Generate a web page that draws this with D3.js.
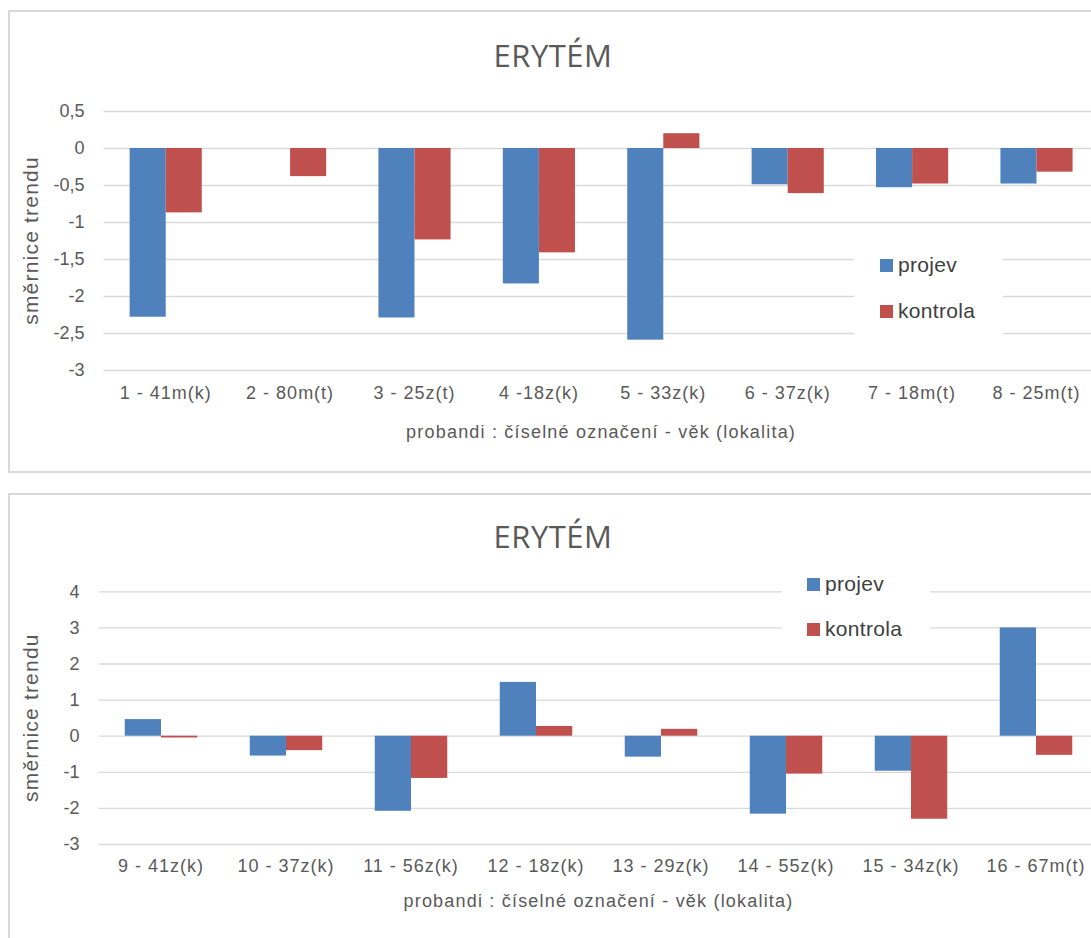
<!DOCTYPE html>
<html>
<head>
<meta charset="utf-8">
<script src="https://cdn.jsdelivr.net/npm/d3@7"></script>
<style>
  body { margin: 0; background: #fff; }
  svg { display: block; }
  text { font-family: "Liberation Sans", Arial, sans-serif; fill: #595959; }
  .title { font-family: "Open Sans", sans-serif; }
</style>
</head>
<body>
<svg width="1091" height="938"></svg>
<script>
const categoriesTop = ["1 - 41m(k)", "2 - 80m(t)", "3 - 25z(t)", "4 -18z(k)", "5 - 33z(k)", "6 - 37z(k)", "7 - 18m(t)", "8 - 25m(t)"];
const projevTop = [-2.28, 0, -2.29, -1.83, -2.59, -0.49, -0.53, -0.48];
const kontrolaTop = [-0.87, -0.38, -1.235, -1.41, 0.2, -0.61, -0.48, -0.32];
const ticksTop = [0.5, 0, -0.5, -1, -1.5, -2, -2.5, -3];

const categoriesBottom = ["9 - 41z(k)", "10 - 37z(k)", "11 - 56z(k)", "12 - 18z(k)", "13 - 29z(k)", "14 - 55z(k)", "15 - 34z(k)", "16 - 67m(t)"];
const projevBottom = [0.46, -0.55, -2.08, 1.49, -0.58, -2.16, -0.97, 3.0];
const kontrolaBottom = [-0.05, -0.40, -1.17, 0.27, 0.19, -1.05, -2.30, -0.53];
const ticksBottom = [4, 3, 2, 1, 0, -1, -2, -3];

const seriesNames = ["projev", "kontrola"];
const color = d3.scaleOrdinal().domain(seriesNames).range(["#4f81bd", "#c0504d"]);

const svg = d3.select("svg");
const fmt = d => String(d).replace(".", ",");

function drawChart(c) {
  const g = svg.append("g");

  // frame
  g.append("rect")
    .attr("x", 9).attr("y", c.frameTop)
    .attr("width", 1088).attr("height", c.frameHeight)
    .attr("fill", "none").attr("stroke", "#d9d9d9").attr("stroke-width", 2);

  g.append("text").attr("class", "title")
    .attr("x", 553).attr("y", c.titleY)
    .attr("text-anchor", "middle")
    .style("font-size", "31px").style("letter-spacing", "0.5px")
    .text("ERYTÉM");

  const x0 = d3.scaleBand().domain(c.categories)
    .range([c.left, c.right]).paddingInner(0.42).paddingOuter(0.21);
  const x1 = d3.scaleBand().domain(seriesNames).range([0, x0.bandwidth()]);
  const y = d3.scaleLinear().domain(c.domain).range([c.bottom, c.top]);

  // gridlines + y labels
  const yAxis = g.append("g")
    .attr("transform", `translate(${c.left},0)`)
    .call(d3.axisLeft(y).tickValues(c.ticks).tickFormat(fmt)
      .tickSize(-(c.right - c.left)).tickPadding(19));
  yAxis.select(".domain").remove();
  yAxis.selectAll("line").attr("stroke", "#d9d9d9").attr("stroke-width", 1.3);
  yAxis.selectAll("text").style("font-size", "18px").attr("fill", "#595959");

  // x labels
  const xAxis = g.append("g")
    .attr("transform", `translate(0,${c.bottom})`)
    .call(d3.axisBottom(x0).tickSize(0).tickPadding(c.xPad));
  xAxis.select(".domain").remove();
  xAxis.selectAll("text").style("font-size", "18px").style("letter-spacing", "1px")
    .attr("fill", "#595959");

  // legend box (covers gridlines)
  const lg = g.append("g");
  lg.append("rect")
    .attr("x", c.legend.x).attr("y", c.legend.y)
    .attr("width", c.legend.w).attr("height", c.legend.h)
    .attr("fill", "#fff");
  seriesNames.forEach((s, i) => {
    lg.append("rect")
      .attr("x", c.legend.sx).attr("y", c.legend.sy + i * c.legend.dy)
      .attr("width", 13).attr("height", 13)
      .attr("fill", color(s));
    lg.append("text")
      .attr("x", c.legend.sx + 18).attr("y", c.legend.sy + 13 + i * c.legend.dy)
      .style("font-size", "21px").style("letter-spacing", "0.3px")
      .style("fill", "#404040")
      .text(s);
  });

  // bars
  const rows = c.categories.map((cat, i) => ({cat, projev: c.projev[i], kontrola: c.kontrola[i]}));
  g.append("g").selectAll("g")
    .data(rows)
    .join("g")
      .attr("transform", d => `translate(${x0(d.cat)},0)`)
    .selectAll("rect")
    .data(d => seriesNames.map(k => ({key: k, value: d[k]})))
    .join("rect")
      .attr("x", d => x1(d.key))
      .attr("width", x1.bandwidth())
      .attr("y", d => y(Math.max(0, d.value)))
      .attr("height", d => Math.abs(y(d.value) - y(0)))
      .attr("fill", d => color(d.key));

  // axis titles
  g.append("text")
    .attr("x", (c.left + c.right) / 2).attr("y", c.xTitleY)
    .attr("text-anchor", "middle")
    .style("font-size", "18px").style("letter-spacing", "1.2px")
    .text(c.xTitle);

  g.append("text")
    .attr("transform", `translate(38,${(c.top + c.bottom) / 2}) rotate(-90)`)
    .attr("text-anchor", "middle")
    .style("font-size", "21px").style("letter-spacing", "1.2px")
    .text("směrnice trendu");
}

drawChart({
  frameTop: 11, frameHeight: 461, titleY: 67,
  categories: categoriesTop, projev: projevTop, kontrola: kontrolaTop,
  ticks: ticksTop, domain: [-3, 0.5],
  left: 103.5, right: 1098.7, top: 111, bottom: 370, xPad: 16,
  xTitleY: 438, xTitle: "probandi : číselné označení - věk (lokalita)",
  legend: {x: 854, y: 240, w: 149, h: 105, sx: 880, sy: 259, dy: 46}
});

drawChart({
  frameTop: 494, frameHeight: 470, titleY: 548,
  categories: categoriesBottom, projev: projevBottom, kontrola: kontrolaBottom,
  ticks: ticksBottom, domain: [-3, 4],
  left: 98.5, right: 1098.5, top: 591.3, bottom: 844, xPad: 15,
  xTitleY: 907, xTitle: "probandi : číselné označení - věk (lokalita)",
  legend: {x: 782, y: 565, w: 148, h: 80, sx: 807, sy: 578, dy: 45}
});
</script>
</body>
</html>
